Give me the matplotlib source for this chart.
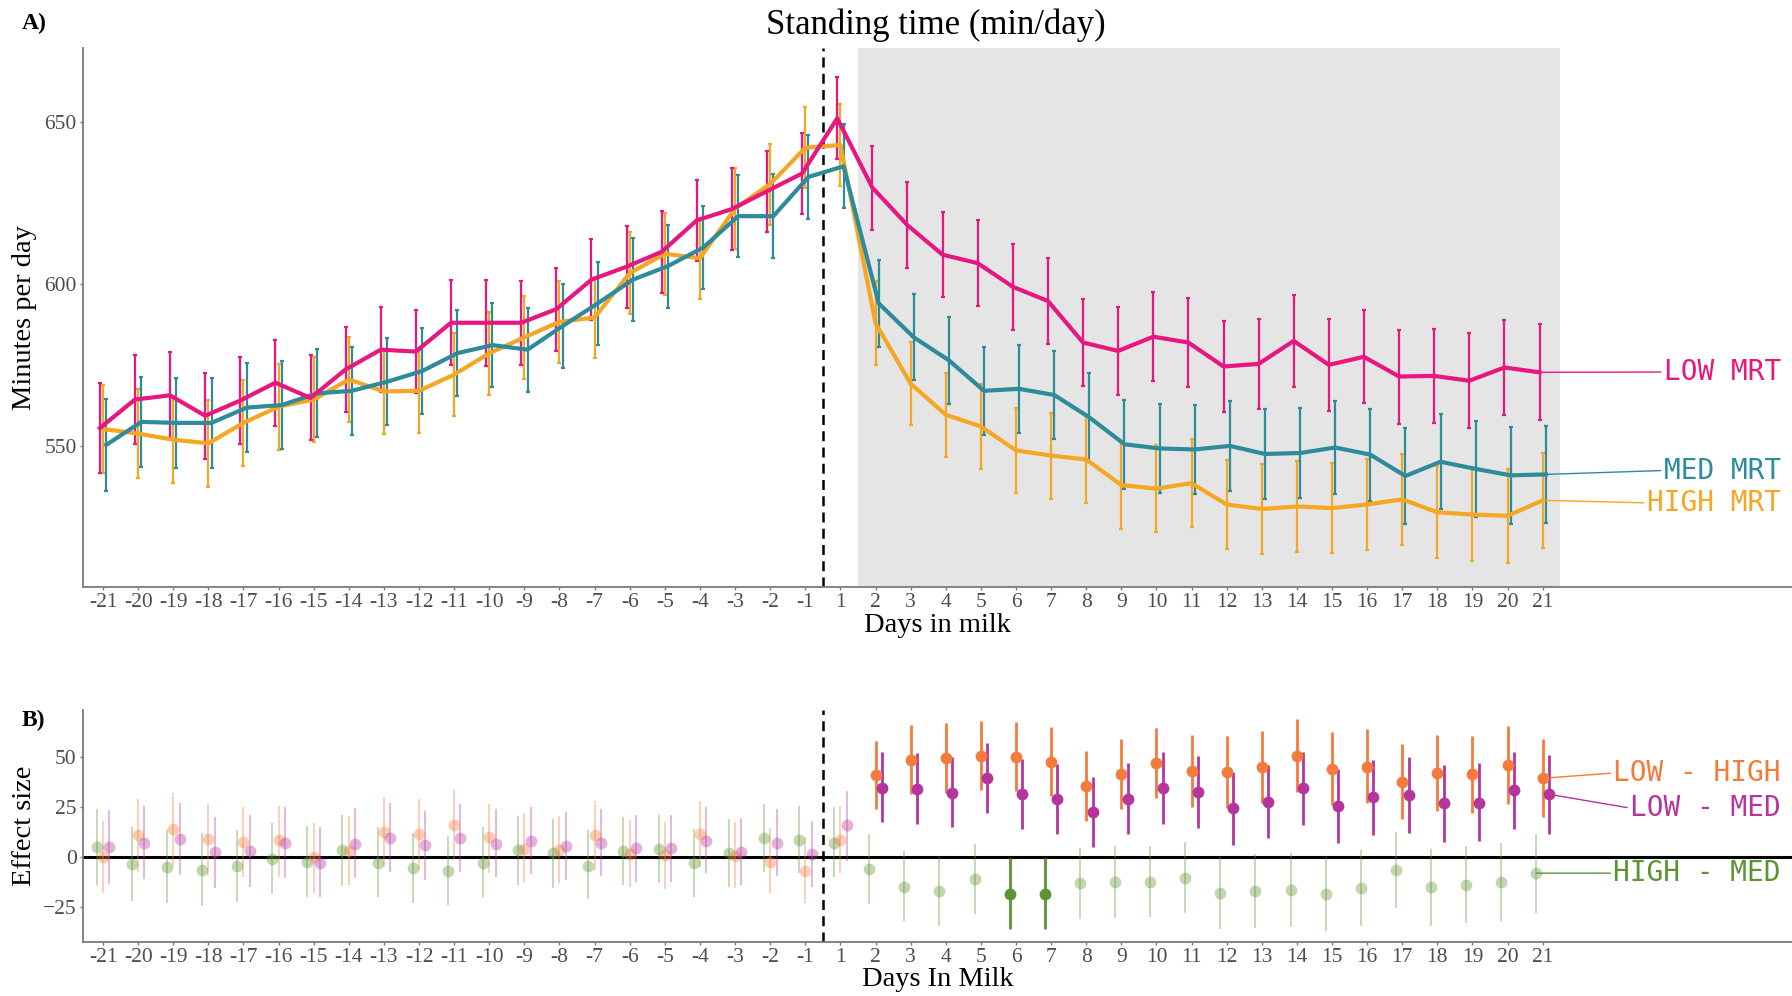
import numpy as np
import matplotlib
matplotlib.use("Agg")
import matplotlib.pyplot as plt

# Days in milk (categorical axis, no day 0)
days = list(range(-21, 0)) + list(range(1, 22))

# Panel A: standing time (min/day), means and CI half widths
low_mean = [555.5, 564.3, 565.6, 559.3, 564.0, 569.5, 564.8, 573.6, 579.7, 579.1, 588.0, 588.0, 588.0, 592.2,
            601.3, 605.3, 609.9, 619.6, 623.1, 628.6, 634.1,
            651.1, 629.7, 618.1, 609.0, 606.4, 599.1, 594.7,
            581.9, 579.3, 583.7, 581.9, 574.5, 575.3, 582.4, 575.0, 577.5, 571.4, 571.6, 570.1, 574.2, 572.7]
med_mean = [550.3, 557.4, 557.1, 557.1, 561.8, 562.6, 566.2, 567.0, 569.8, 573.1, 578.6, 581.1, 579.7, 587.0,
            594.0, 601.3, 605.5, 611.2, 620.9, 620.9, 633.0,
            636.3, 594.0, 583.5, 576.4, 567.0, 567.6, 565.7,
            558.8, 550.5, 549.2, 548.9, 550.0, 547.5, 547.8, 549.5, 547.3, 540.7, 545.1, 542.9, 540.9, 541.2]
high_mean = [555.2, 553.8, 551.9, 550.8, 557.1, 562.1, 564.3, 570.5, 566.8, 567.0, 572.0, 578.6, 583.5, 588.3,
             589.6, 603.3, 609.3, 607.9, 623.3, 630.8, 642.0,
             642.9, 587.9, 569.2, 559.6, 556.0, 548.6, 547.0,
             545.8, 537.9, 536.8, 538.5, 531.9, 530.5, 531.3, 530.8, 531.9, 533.5, 529.5, 528.8, 528.4, 533.2]
low_err = [14.0, 13.8, 13.4, 13.3, 13.5, 13.3, 13.1, 13.1, 13.2, 12.9, 13.1, 13.2, 13.0, 12.8,
           12.6, 12.7, 12.6, 12.4, 12.6, 12.5, 12.6,
           12.7, 13.0, 13.2, 13.2, 13.3, 13.3, 13.4,
           13.5, 13.7, 13.8, 13.8, 14.0, 14.0, 14.2, 14.2, 14.3, 14.5, 14.5, 14.7, 14.6, 14.8]
med_err = [14.3, 14.0, 14.0, 14.0, 13.8, 13.6, 13.6, 13.5, 13.5, 13.3, 13.2, 13.0, 13.0, 13.0,
           12.8, 12.8, 12.8, 12.7, 12.7, 12.9, 13.0,
           13.0, 13.4, 13.3, 13.4, 13.5, 13.5, 13.6,
           13.7, 13.7, 13.8, 13.8, 14.0, 14.0, 14.0, 14.2, 14.2, 14.7, 14.7, 14.8, 15.0, 15.0]
high_err = [13.6, 13.7, 13.5, 13.5, 13.3, 13.3, 13.2, 13.1, 13.0, 13.0, 12.9, 12.8, 12.8, 12.7,
            12.6, 12.6, 12.6, 12.5, 12.5, 12.5, 12.5,
            12.7, 12.9, 12.8, 13.0, 13.0, 13.2, 13.3,
            13.3, 13.4, 13.5, 13.5, 13.7, 13.8, 13.9, 14.0, 14.0, 14.1, 14.2, 14.3, 14.6, 14.6]

# Panel B: effect sizes with CIs
hm_est = [5, -3.7, -5.3, -6.7, -4.7, -1.2, -2.8, 3.2, -3.3, -5.8, -7, -3, 3.3, 2, -4.5,
          3, 3.7, -3.3, 2, 9.5, 8.3,
          7, -6.3, -15, -17.3, -11.3, -18.7, -18.7, -13.3, -12.5, -12.5, -10.5,
          -18, -17.2, -16.7, -18.7, -15.8, -6.8, -15.3, -14.2, -12.7, -8.2]
hm_lo = [-14.2, -22, -23.3, -24.7, -22.5, -18.7, -20, -14.5, -20.3, -23, -24.2, -20, -14.2, -15.5, -21.2,
         -14.2, -13, -20.3, -15.3, -7.5, -8.3,
         -10.3, -23.7, -32, -34.7, -28.7, -36.3, -36.3, -31.2, -30.5, -30.3, -28,
         -36.3, -35.5, -35.3, -37, -34.7, -25.8, -34.7, -33.3, -32, -28]
hm_hi = [23.8, 15, 13.3, 11.7, 13.3, 17, 15.3, 20.8, 14.7, 12, 10.5, 14.7, 20.3, 18.8, 13.3,
         20, 20.7, 13.7, 18.7, 26.2, 25.3,
         24.7, 11.3, 2.8, 0, 6.3, -0.8, -0.8, 4.5, 5.3, 5.3, 7.5,
         0, 1.3, 2, 0, 3.3, 12.5, 3.7, 5.3, 7, 11.3]
lh_est = [-0.3, 10.8, 13.8, 8.8, 7.5, 8.3, -0.3, 2.7, 12.5, 11.2, 15.8, 9.7, 3.8, 3.3, 10.8,
          1.3, 0.8, 11.3, 0.5, -2.5, -7.2,
          8.3, 40.7, 48.3, 49.2, 50.3, 50, 47.5, 35.5, 41.3, 46.7, 42.8,
          42.5, 45, 50.5, 44, 45, 37.2, 42, 41.2, 45.7, 39.2]
lh_lo = [-18.3, -7.5, -4.2, -9.2, -10.3, -10, -18, -14.2, -5, -6.7, -1.7, -8, -12.5, -13, -6.7,
         -15.3, -16.2, -5, -15.8, -18.7, -23.3,
         -8.3, 23.8, 31.2, 32, 33.3, 32.8, 30.3, 18, 23.8, 29.2, 25,
         24.2, 26.7, 32.5, 25.8, 26.7, 18.7, 23, 22, 26.3, 19.7]
lh_hi = [18, 28.8, 31.7, 26.3, 25, 25.3, 16.7, 20.3, 29.7, 28.7, 33.3, 26.3, 21.7, 20.3, 27.8,
         18.3, 17.5, 27.8, 17.5, 14.5, 10,
         25.3, 57.8, 65.8, 66.7, 67.8, 67.3, 65, 53, 58.8, 64.5, 60.8,
         60.3, 63, 68.8, 62.5, 63.8, 56.3, 60.8, 60.5, 65.3, 58.7]
lm_est = [4.7, 7, 8.7, 2.3, 3, 6.7, -3, 6.3, 9.5, 5.7, 9.5, 6.5, 8, 5.3, 7,
          4.2, 4.5, 8, 2.5, 7, 1.3,
          15.7, 34.5, 33.8, 32, 39.2, 31.3, 28.7, 22.2, 28.7, 34.2, 32.5,
          24.2, 27.5, 34.2, 25.5, 29.7, 30.8, 26.7, 27, 33.3, 31.2]
lm_lo = [-13.7, -11.3, -9.2, -15.8, -15, -10.8, -20.3, -10.8, -7.5, -11.7, -7.5, -10.3, -8.7, -11.7, -9.7,
         -12.5, -12.5, -8.3, -14.2, -9.5, -15.3,
         -2, 17.2, 16.3, 14.7, 21.7, 13.7, 11.3, 4.7, 11.3, 16.3, 14.2,
         5.8, 9.2, 15.8, 7, 10.8, 11.7, 7.5, 7.8, 13.7, 11.3]
lm_hi = [23.3, 25.3, 27, 20, 20.7, 24.7, 15, 24.2, 27, 23, 26.3, 23.8, 25, 22.2, 23.8,
         20.8, 21, 25, 19.2, 23.8, 18,
         33, 52.2, 51.7, 49.7, 57, 48.8, 46.3, 40, 46.7, 52.2, 50.5,
         42.5, 45.8, 52.5, 43.8, 48.3, 49.7, 45.8, 46.7, 52.5, 50.8]

SERIF = "Liberation Serif"
MONO = "DejaVu Sans Mono"
GREY = "#4d4d4d"
SPINE = "#7a7a7a"

x = np.arange(len(days))
fig = plt.figure(figsize=(17.92, 9.96), dpi=100)
W, H = 1792, 996
ax1 = fig.add_axes([83 / W, 1 - 586.5 / H, 1 - 83 / W, (586.5 - 48) / H])
ax2 = fig.add_axes([83 / W, 1 - 942 / H, 1 - 83 / W, (942 - 710) / H])


def style(ax):
    for s in ["top", "right"]:
        ax.spines[s].set_visible(False)
    for s in ["left", "bottom"]:
        ax.spines[s].set_color(SPINE)
        ax.spines[s].set_linewidth(1.3)
    ax.set_xticks(x)
    ax.set_xticklabels([str(d) for d in days])
    ax.tick_params(axis="both", length=2.5, width=1, color=SPINE, labelcolor=GREY, labelsize=15.5, pad=2)
    for lab in ax.get_xticklabels() + ax.get_yticklabels():
        lab.set_fontfamily(SERIF)
    ax.set_xlim(-0.57, 48.1)


# ---- Panel A ----
series = [("HIGH MRT", high_mean, high_err, "#F5A623", 0.0, 532.4),
          ("MED MRT", med_mean, med_err, "#2E8B9B", 0.09, 542.4),
          ("LOW MRT", low_mean, low_err, "#E8177F", -0.09, 572.8)]
ax1.axvspan(21.5, 41.5, color="#e5e5e5", lw=0, zorder=0)
ax1.axvline(20.5, color="black", lw=1.8, ls=(0, (4, 2.5)), zorder=1)
for name, m, e, c, dx, ly in series:
    ax1.errorbar(x + dx, m, yerr=e, fmt="none", ecolor=c, elinewidth=1.6, capsize=1.5, capthick=1.6, zorder=2)
for name, m, e, c, dx, ly in series:
    ax1.plot(x + dx, m, color=c, lw=3, solid_joinstyle="round", zorder=3)
    ax1.annotate(name, xy=(x[-1] + dx, m[-1]), xytext=(47.78, ly), ha="right", va="center",
                 color=c, fontsize=20, family=MONO,
                 arrowprops=dict(arrowstyle="-", color=c, lw=1, shrinkA=0, shrinkB=0, relpos=(0, 0.5)))
ax1.set_ylim(506.6, 672.8)
ax1.set_yticks([550, 600, 650])
style(ax1)
ax1.set_ylabel("Minutes per day", family=SERIF, fontsize=20.5, color="black", va="center")
ax1.yaxis.set_label_coords(-0.034, 0.5)
ax1.set_xlabel("Days in milk", family=SERIF, fontsize=20.5, color="black", va="center")
ax1.xaxis.set_label_coords(0.5, -0.073)

# ---- Panel B ----
contrasts = [("HIGH - MED", hm_est, hm_lo, hm_hi, "#5C9434", -0.18, -8.2),
             ("LOW - HIGH", lh_est, lh_lo, lh_hi, "#F47B3C", 0.0, 41.8),
             ("LOW - MED", lm_est, lm_lo, lm_hi, "#B5359F", 0.18, 24.3)]
ax2.axhline(0, color="black", lw=2.2, zorder=1)
ax2.axvline(20.5, color="black", lw=1.8, ls=(0, (4, 2.5)), zorder=1)
for name, est, lo, hi, c, dx, ly in contrasts:
    est, lo, hi = np.array(est), np.array(lo), np.array(hi)
    sig = (lo > 0) | (hi < 0)
    for i in range(len(x)):
        a = 1.0 if sig[i] else 0.38
        lw = 2.0 if sig[i] else 1.3
        ax2.errorbar(x[i] + dx, est[i], yerr=[[est[i] - lo[i]], [hi[i] - est[i]]], fmt="o", color=c,
                     alpha=a, ms=8.5, mew=0, elinewidth=lw, capsize=2, capthick=lw, zorder=3)
    ax2.annotate(name, xy=(x[-1] + dx, est[-1]), xytext=(47.78, ly), ha="right", va="center",
                 color=c, fontsize=20, family=MONO,
                 arrowprops=dict(arrowstyle="-", color=c, lw=1, shrinkA=0, shrinkB=0, relpos=(0, 0.5)))
ax2.set_ylim(-42.6, 73.3)
ax2.set_yticks([-25, 0, 25, 50])
style(ax2)
ax2.set_ylabel("Effect size", family=SERIF, fontsize=20.5, color="black", va="center")
ax2.yaxis.set_label_coords(-0.034, 0.5)
ax2.set_xlabel("Days In Milk", family=SERIF, fontsize=20.5, color="black", va="center")
ax2.xaxis.set_label_coords(0.5, -0.16)

fig.text(936 / W, 1 - 25 / H, "Standing time (min/day)", family=SERIF, fontsize=25, ha="center", va="center")
fig.text(22 / W, 1 - 23 / H, "A)", family=SERIF, fontsize=17, weight="bold", ha="left", va="center")
fig.text(22 / W, 1 - 720 / H, "B)", family=SERIF, fontsize=17, weight="bold", ha="left", va="center")

fig.savefig("out.png", dpi=100)
